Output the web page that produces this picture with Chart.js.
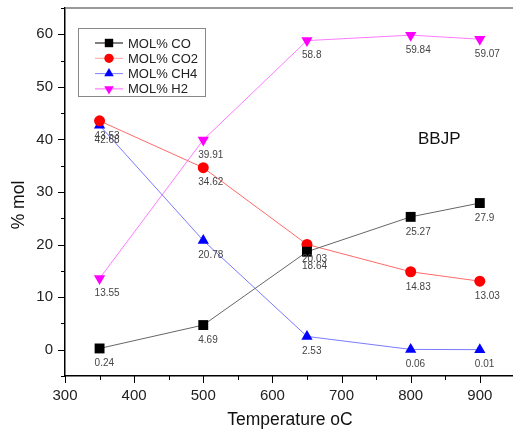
<!DOCTYPE html>
<html>
<head>
<meta charset="utf-8">
<script src="https://cdn.jsdelivr.net/npm/chart.js"></script>
<style>
  html, body { margin: 0; padding: 0; background: #fff; }
  #wrap { width: 513px; height: 435px; }
</style>
</head>
<body>
<div id="wrap"><canvas id="grafica" width="513" height="435"></canvas></div>
<script>
// datos
const temperaturas = [350, 500, 650, 800, 900];
const molCO  = [0.24, 4.69, 18.64, 25.27, 27.9];
const molCO2 = [43.53, 34.62, 20.03, 14.83, 13.03];
const molCH4 = [42.68, 20.78, 2.53, 0.06, 0.01];
const molH2  = [13.55, 39.91, 58.8, 59.84, 59.07];
const series = ['MOL% CO', 'MOL% CO2', 'MOL% CH4', 'MOL% H2'];
const xTicks = [300, 400, 500, 600, 700, 800, 900];
const yTicks = [0, 10, 20, 30, 40, 50, 60];

const FONT = '"Liberation Sans", Arial, sans-serif';
const pts = arr => arr.map((v, i) => ({ x: temperaturas[i], y: v }));

function serie(label, datos, linea, punto, estilo, radio, rot) {
  return {
    label, data: pts(datos), borderColor: linea, borderWidth: 1,
    backgroundColor: punto, pointBackgroundColor: punto, pointBorderColor: punto,
    pointStyle: estilo, pointRadius: radio, pointHoverRadius: radio,
    pointRotation: rot || 0, pointBorderWidth: 0, tension: 0, fill: false
  };
}

// etiquetas, marcas, leyenda, titulos
const extras = {
  id: 'extras',
  afterDraw(chart) {
    const ctx = chart.ctx;
    const xs = chart.scales.x, ys = chart.scales.y;
    const area = chart.chartArea;
    ctx.save();

    // borde superior gris
    ctx.strokeStyle = '#777';
    ctx.lineWidth = 1.5;
    ctx.beginPath();
    ctx.moveTo(area.left, area.top);
    ctx.lineTo(area.right, area.top);
    ctx.stroke();

    // marcas de ejes
    ctx.strokeStyle = '#000';
    ctx.lineWidth = 1;
    for (let v = 300; v <= xs.max; v += 50) {
      const px = Math.round(xs.getPixelForValue(v)) + 0.5;
      const len = v % 100 === 0 ? 7 : 4;
      ctx.beginPath();
      ctx.moveTo(px, area.bottom);
      ctx.lineTo(px, area.bottom + len);
      ctx.stroke();
    }
    for (let v = -5; v <= 65; v += 5) {
      const py = Math.round(ys.getPixelForValue(v)) + 0.5;
      const len = v % 10 === 0 ? 7 : 4;
      ctx.beginPath();
      ctx.moveTo(area.left, py);
      ctx.lineTo(area.left - len, py);
      ctx.stroke();
    }

    // etiquetas de datos
    ctx.font = '10px ' + FONT;
    ctx.fillStyle = '#444';
    ctx.textAlign = 'left';
    ctx.textBaseline = 'middle';
    chart.data.datasets.forEach((ds, i) => {
      chart.getDatasetMeta(i).data.forEach((p, j) => {
        ctx.fillText(String(ds.data[j].y), p.x - 5, p.y + 15);
      });
    });

    // leyenda
    const lx = 78, ly = 28, lw = 127, lh = 68;
    ctx.fillStyle = '#fff';
    ctx.fillRect(lx, ly, lw, lh);
    ctx.strokeStyle = '#888';
    ctx.lineWidth = 1;
    ctx.strokeRect(lx + 0.5, ly + 0.5, lw, lh);
    ctx.font = '13px ' + FONT;
    ctx.textAlign = 'left';
    const legLinea = ['#000', '#ffa0a0', '#8080ff', '#ff60ff'];
    chart.data.datasets.forEach((ds, i) => {
      const y = ly + 15 + i * 15.3;
      ctx.strokeStyle = legLinea[i];
      ctx.lineWidth = 1;
      ctx.beginPath();
      ctx.moveTo(95, y);
      ctx.lineTo(123, y);
      ctx.stroke();
      ctx.fillStyle = ds.pointBackgroundColor;
      Chart.helpers.drawPoint(ctx, {
        pointStyle: ds.pointStyle, radius: ds.pointRadius * 0.85,
        rotation: ds.pointRotation, borderWidth: 0
      }, 109, y);
      ctx.fillStyle = '#222';
      ctx.fillText(ds.label, 128, y + 1);
    });

    // texto BBJP
    ctx.font = '17px ' + FONT;
    ctx.fillStyle = '#111';
    ctx.fillText('BBJP', 418, 139);

    // titulos de ejes
    ctx.font = '17.5px ' + FONT;
    ctx.fillStyle = '#111';
    ctx.textAlign = 'center';
    ctx.fillText('Temperature oC', 290, 420);
    ctx.translate(19, 205);
    ctx.rotate(-Math.PI / 2);
    ctx.fillText('% mol', 0, 0);
    ctx.restore();
  }
};

new Chart(document.getElementById('grafica'), {
  type: 'line',
  data: {
    datasets: [
      serie(series[0], molCO, '#666', '#000', 'rect', 7),
      serie(series[1], molCO2, '#ff6a6a', '#ff0000', 'circle', 5.5),
      serie(series[2], molCH4, '#7a7aff', '#0000ff', 'triangle', 6.5),
      serie(series[3], molH2, '#ff7aff', '#ff00ff', 'triangle', 6.5, 180)
    ]
  },
  options: {
    responsive: false,
    animation: false,
    layout: { autoPadding: false, padding: { left: 0, right: 0, top: 8, bottom: 0 } },
    plugins: { legend: { display: false }, tooltip: { enabled: false } },
    scales: {
      x: {
        type: 'linear', min: 300, max: 948,
        afterBuildTicks: s => { s.ticks = xTicks.map(v => ({ value: v })); },
        afterFit: s => { s.height = 59; s.paddingLeft = 0; s.paddingRight = 0; },
        grid: { display: true, drawOnChartArea: false, drawTicks: true, tickLength: 7, color: 'rgba(0,0,0,0)' },
        border: { display: true, color: '#000', width: 1.5 },
        ticks: { color: '#222', font: { size: 15, family: FONT }, padding: 4, maxRotation: 0 }
      },
      y: {
        type: 'linear', min: -5, max: 65,
        afterBuildTicks: s => { s.ticks = yTicks.map(v => ({ value: v })); },
        afterFit: s => { s.width = 65; s.paddingTop = 0; s.paddingBottom = 0; },
        grid: { display: true, drawOnChartArea: false, drawTicks: true, tickLength: 7, color: 'rgba(0,0,0,0)' },
        border: { display: true, color: '#000', width: 1.5 },
        ticks: { color: '#222', font: { size: 15, family: FONT }, padding: 5 }
      }
    }
  },
  plugins: [extras]
});
</script>
</body>
</html>
